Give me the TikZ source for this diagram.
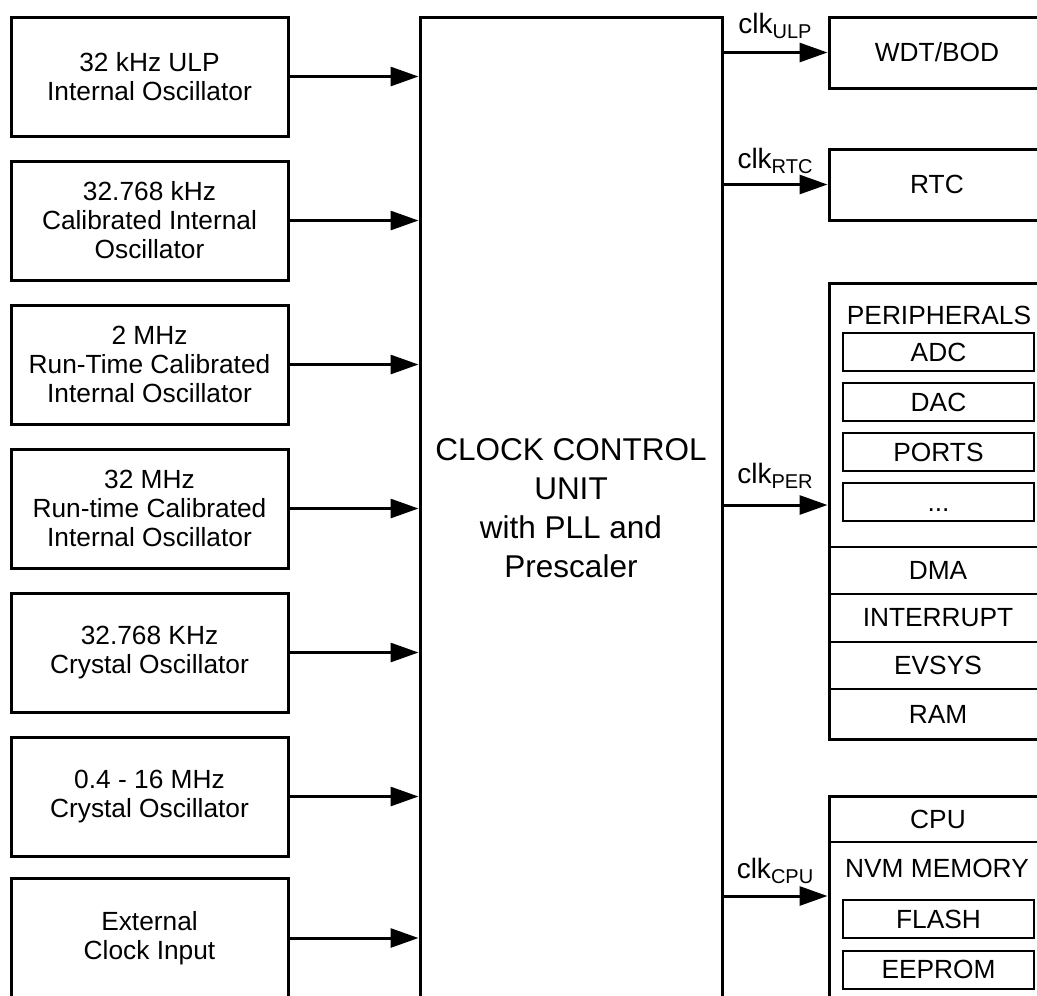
\documentclass[tikz,border=0pt]{standalone}
\usepackage{fontspec}
\setmainfont{Liberation Sans}
\usetikzlibrary{arrows.meta,calc}
\newcommand\clksub[1]{clk\raisebox{-5pt}{\fontsize{20}{20}\selectfont #1}}
\begin{document}
\begin{tikzpicture}[x=1pt,y=-1pt,
  box/.style={draw,line width=3pt,inner sep=0pt,font=\fontsize{26.3}{29}\selectfont,align=center},
  lbox/.style={box,minimum width=277pt,minimum height=119pt},
  rbox/.style={box,minimum width=216pt},
  ibox/.style={draw,line width=2pt,inner sep=0pt,font=\fontsize{26.3}{29}\selectfont,minimum width=191pt,minimum height=38pt,text height=18.8pt,text depth=0pt},
  lbl/.style={inner sep=0pt,font=\fontsize{26.3}{29}\selectfont},
  sep/.style={line width=2.5pt},
  arr/.style={line width=3pt,-{Triangle[length=28pt,width=19pt]}},
  clk/.style={inner sep=0pt,anchor=base,font=\fontsize{28}{30}\selectfont}]
\useasboundingbox (0,0) rectangle (1037,996);
\clip (0,0) rectangle (1037,996);

% left oscillator boxes
\node[lbox] (o1) at (149.5,76.5) {32 kHz ULP\\Internal Oscillator};
\node[lbox] (o2) at (149.5,220.5) {32.768 kHz\\Calibrated Internal\\Oscillator};
\node[lbox] (o3) at (149.5,364.5) {2 MHz\\Run-Time Calibrated\\Internal Oscillator};
\node[lbox] (o4) at (149.5,508.5) {32 MHz\\Run-time Calibrated\\Internal Oscillator};
\node[lbox] (o5) at (149.5,652.5) {32.768 KHz\\Crystal Oscillator};
\node[lbox] (o6) at (149.5,796.5) {0.4 - 16 MHz\\Crystal Oscillator};
\node[lbox,minimum height=120pt] (o7) at (149.5,938) {External\\Clock Input};

% clock control unit
\node[box,minimum width=302pt,minimum height=982pt,font=\fontsize{31.5}{39}\selectfont] (ccu) at (571,508) {CLOCK CONTROL\\UNIT\\with PLL and\\Prescaler};

\foreach \o in {o1,o2,o3,o4,o5,o6,o7}
  \draw[arr] (\o.east) -- (ccu.west |- \o.east);

% right side
\node[rbox,minimum height=71pt] (wdt) at (937,52.5) {WDT/BOD};
\node[rbox,minimum height=71pt] (rtc) at (937,184.5) {RTC};

\node[rbox,minimum height=456pt] (per) at (937,511) {};
\node[lbl] (pertitle) at (939,315) {PERIPHERALS};
\node[ibox] (adc) at (938.5,352) {ADC};
\node[ibox] (dac) at (938.5,402) {DAC};
\node[ibox] (ports) at (938.5,452) {PORTS};
\node[ibox] (more) at (938.5,502) {...};
\coordinate (s1) at (0,547);
\coordinate (s2) at (0,594);
\coordinate (s3) at (0,642);
\coordinate (s4) at (0,689);
\foreach \s in {s1,s2,s3,s4}
  \draw[sep] (per.west |- \s) -- (per.east |- \s);
\node[lbl] (dma) at (938,570.5) {DMA};
\node[lbl] (irq) at (938,618) {INTERRUPT};
\node[lbl] (evsys) at (938,665.5) {EVSYS};
\node[lbl] (ram) at (938,714) {RAM};

\node[rbox,minimum height=214pt] (cpubox) at (937,903) {};
\coordinate (s5) at (0,842);
\draw[sep] (cpubox.west |- s5) -- (cpubox.east |- s5);
\node[lbl] (cpu) at (938,819) {CPU};
\node[lbl] (nvm) at (937,868) {NVM MEMORY};
\node[ibox] (flash) at (938.5,919) {FLASH};
\node[ibox] (eeprom) at (938.5,969.5) {EEPROM};

% output clocks
\coordinate (yper) at (0,505);
\coordinate (ycpu) at (0,896);
\draw[arr] (ccu.east |- wdt.west) -- (wdt.west);
\draw[arr] (ccu.east |- rtc.west) -- (rtc.west);
\draw[arr] (ccu.east |- yper) -- (per.west |- yper);
\draw[arr] (ccu.east |- ycpu) -- (cpubox.west |- ycpu);

\node[clk] (lulp) at (775,33) {\clksub{ULP}};
\node[clk] (lrtc) at (775,168) {\clksub{RTC}};
\node[clk] (lper) at (775,483) {\clksub{PER}};
\node[clk] (lcpu) at (775,878) {\clksub{CPU}};
\end{tikzpicture}
\end{document}
